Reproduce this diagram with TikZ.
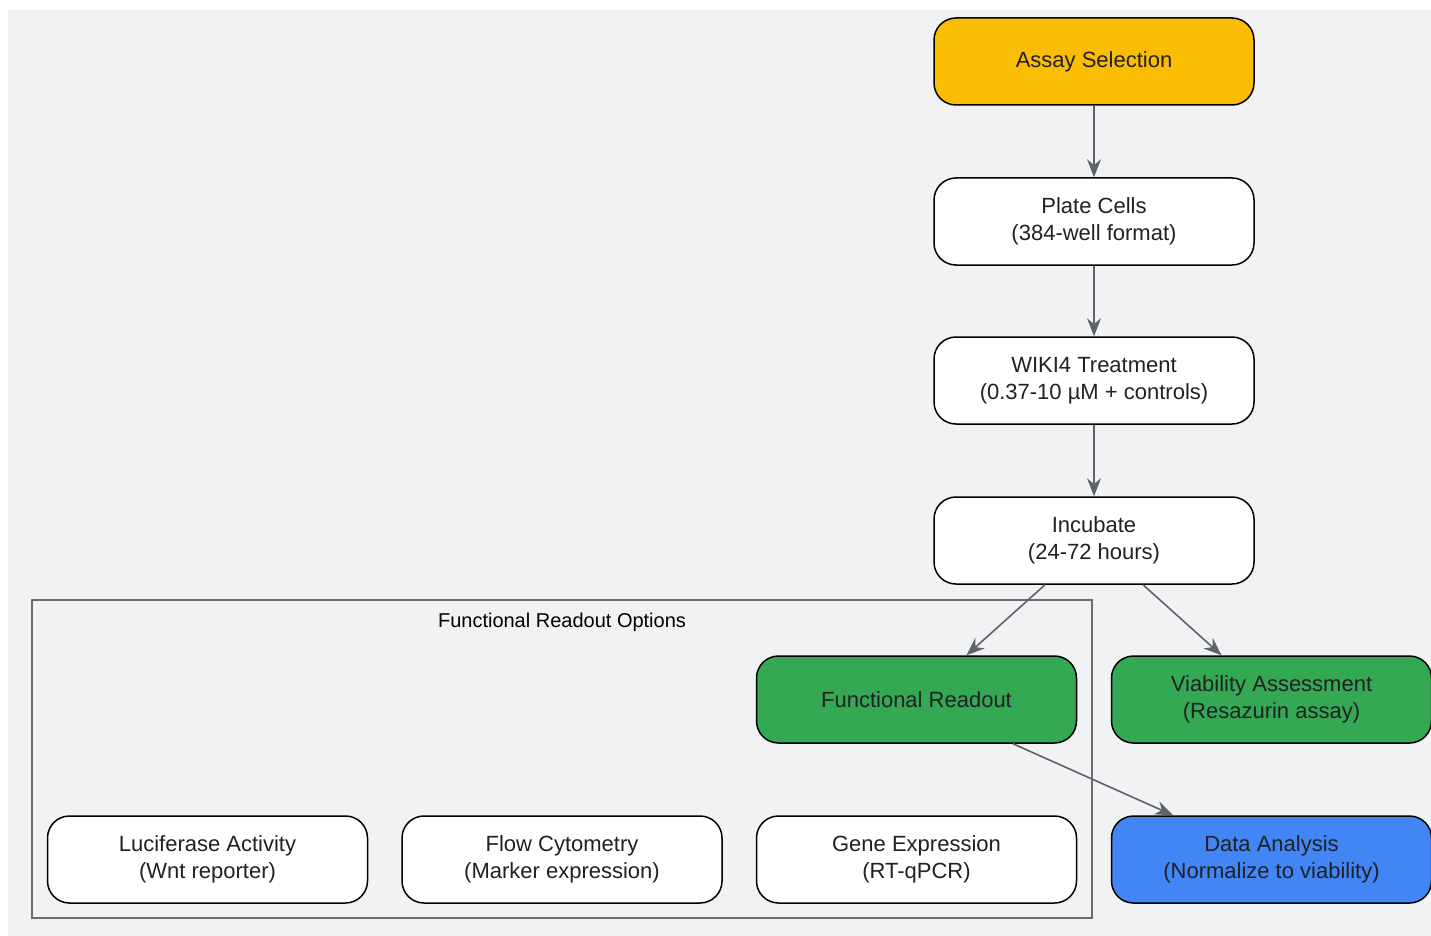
\documentclass[tikz,border=0pt]{standalone}
\usepackage{fontspec}
\setmainfont{Liberation Sans}
\usetikzlibrary{arrows.meta}
\definecolor{bgc}{HTML}{F1F2F4}
\definecolor{yel}{HTML}{FBBC04}
\definecolor{grn}{HTML}{34A853}
\definecolor{blu}{HTML}{4285F4}
\definecolor{arr}{HTML}{5F6368}
\definecolor{clu}{HTML}{6B6B70}
\definecolor{txt}{HTML}{202124}
\begin{document}
\begin{tikzpicture}[x=1pt,y=-1pt,
  box/.style={draw=black,line width=1.5pt,rounded corners=22pt,minimum width=320pt,minimum height=87pt,align=center,text=txt,font=\fontsize{22}{27}\selectfont,inner sep=0pt},
  conn/.style={draw=arr,line width=1.6pt,-{Stealth[length=18pt,width=14pt]}}]
\useasboundingbox (0,0) rectangle (1431,936);
\fill[bgc] (8,10) rectangle (1431,936);
\draw[clu,line width=1.5pt] (32,600) rectangle (1092,918);
\node[text=black,font=\fontsize{20}{24}\selectfont] (cl) at (562,622) {Functional Readout Options};
\node[box,fill=yel] (as) at (1094,61.5) {Assay Selection};
\node[box,fill=white] (pc) at (1094,221.5) {Plate Cells\\(384-well format)};
\node[box,fill=white] (wt) at (1094,380.5) {WIKI4 Treatment\\(0.37-10 µM + controls)};
\node[box,fill=white] (inc) at (1094,540.5) {Incubate\\(24-72 hours)};
\node[box,fill=grn] (fr) at (916.5,699.5) {Functional Readout};
\node[box,fill=grn] (va) at (1271.5,699.5) {Viability Assessment\\(Resazurin assay)};
\node[box,fill=blu] (da) at (1271.5,859.5) {Data Analysis\\(Normalize to viability)};
\node[box,fill=white] (lu) at (207.5,859.5) {Luciferase Activity\\(Wnt reporter)};
\node[box,fill=white] (fc) at (562,859.5) {Flow Cytometry\\(Marker expression)};
\node[box,fill=white] (ge) at (916.5,859.5) {Gene Expression\\(RT-qPCR)};
\draw[conn] (as) -- (pc);
\draw[conn] (pc) -- (wt);
\draw[conn] (wt) -- (inc);
\draw[conn] ([xshift=-49pt]inc.south) -- ([xshift=50pt]fr.north);
\draw[conn] ([xshift=49pt]inc.south) -- ([xshift=-50pt]va.north);
\draw[conn] ([xshift=96.5pt]fr.south) -- ([xshift=-98.5pt]da.north);
\end{tikzpicture}
\end{document}
